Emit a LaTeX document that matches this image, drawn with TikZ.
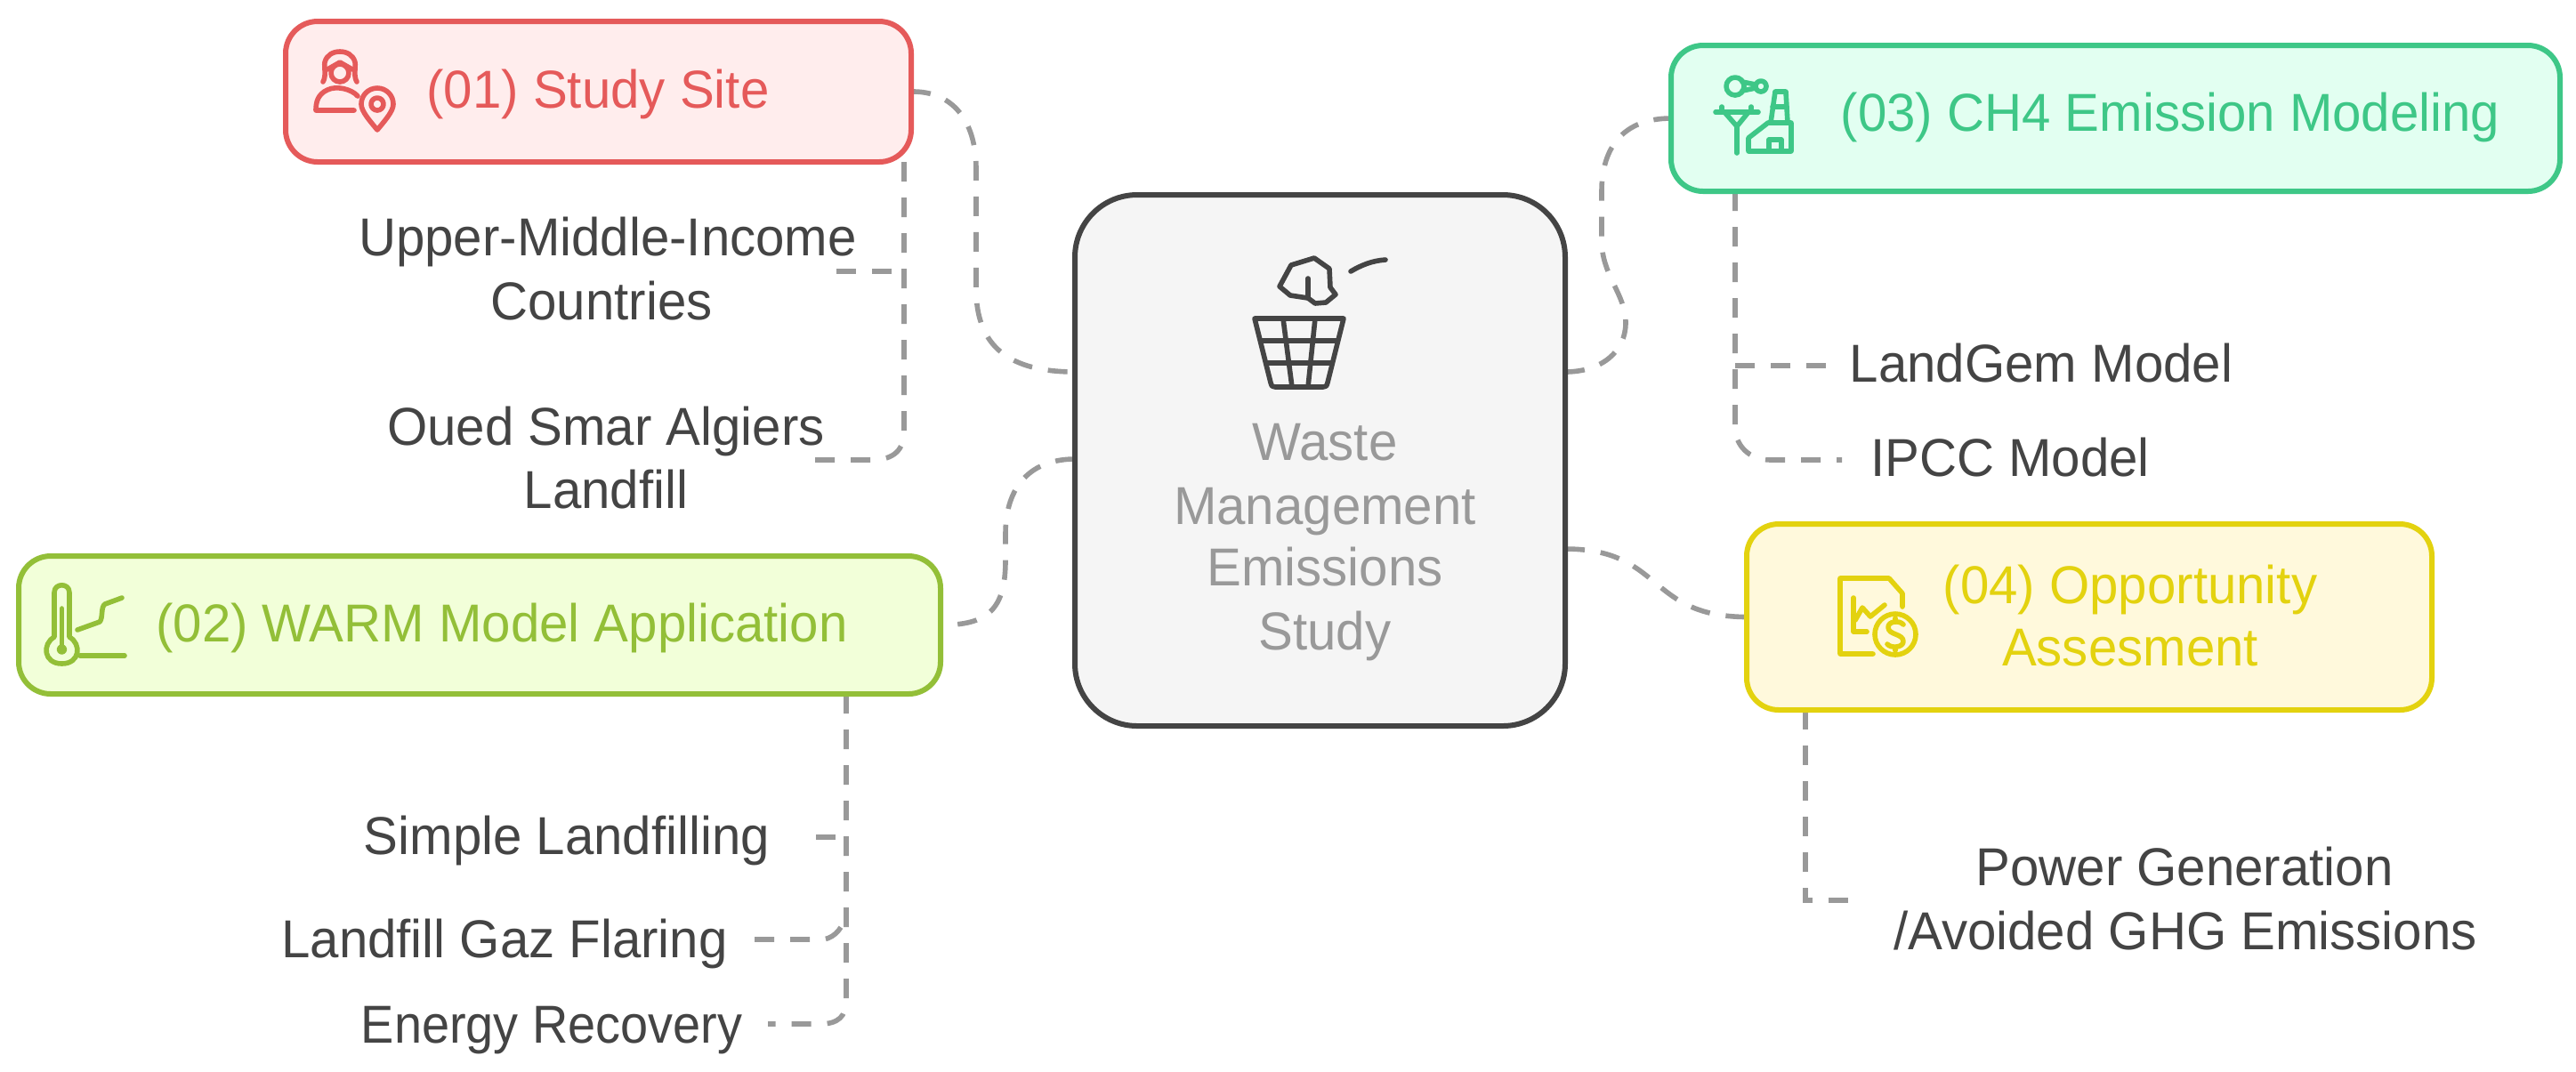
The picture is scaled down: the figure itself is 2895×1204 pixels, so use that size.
\documentclass[tikz,border=0pt]{standalone}
\usepackage{fontspec}
\setmainfont{Liberation Sans}[FakeStretch=0.97]
\definecolor{redL}{HTML}{E55A5A}\definecolor{redF}{HTML}{FFEDED}
\definecolor{greenL}{HTML}{3EC787}\definecolor{greenF}{HTML}{E2FFF1}
\definecolor{limeL}{HTML}{93BF38}\definecolor{limeF}{HTML}{F2FFD9}
\definecolor{yelL}{HTML}{E3D20F}\definecolor{yelF}{HTML}{FFF9DC}
\definecolor{inkL}{HTML}{444444}\definecolor{coreF}{HTML}{F5F5F5}
\definecolor{coreT}{HTML}{999999}\definecolor{linkC}{HTML}{999999}
\tikzset{
  x=0.25pt,y=-0.25pt,
  boxbase/.style={draw,rectangle,inner sep=0pt,outer sep=0pt,line width=1.5pt,rounded corners=9pt},
  txt/.style={font=\fontsize{15}{17.75}\selectfont,inner sep=0pt,outer sep=0pt,anchor=base,align=center},
  lbl/.style={txt,text=inkL},
  link/.style={draw=linkC,line width=1.4pt,dash pattern=on 5.5pt off 4.5pt},
  ico/.style={line width=1.4pt,line cap=round,line join=round},
}
\begin{document}
\begin{tikzpicture}
\path[use as bounding box,fill=white] (0,0) rectangle (2895,1204);
% connector anchors
\node[boxbase,draw=none,minimum width=137.75pt,minimum height=149.25pt] (core) at (1483.5,517.5) {};
\node[boxbase,draw=none,minimum width=175.75pt,minimum height=39.5pt] (site) at (672.5,103) {};
\node[boxbase,draw=none,minimum width=259pt,minimum height=38.75pt] (warm) at (539,702.5) {};
\node[boxbase,draw=none,minimum width=249.75pt,minimum height=41pt] (ch4) at (2377.5,133) {};
\node[boxbase,draw=none,minimum width=192.5pt,minimum height=52.25pt] (opp) at (2348,693.5) {};
\coordinate (upperEnd) at (940,305);
\coordinate (ouedEnd) at (913,517);
\coordinate (simpleEnd) at (917,941);
\coordinate (flareEnd) at (848,1056);
\coordinate (energyEnd) at (863,1151);
\coordinate (gemEnd) at (2055,411);
\coordinate (ipccEnd) at (2070,517);
\coordinate (powerEnd) at (2078,1012);
\draw[link] (site.east) .. controls (1070,102) and (1097,135) .. (1097,190) -- (1097,325) .. controls (1097,390) and (1135,418) .. (core.west |- 0,418);
\draw[link] (1016,0 |- site.south) -- (1016,485) .. controls (1016,505) and (1005,517) .. (980,517) -- (ouedEnd);
\draw[link] (upperEnd) -- (1016,305);
\draw[link] (core.east |- 0,418) .. controls (1800,418) and (1827,395) .. (1827,363) .. controls (1827,330) and (1800,310) .. (1800,270) -- (1800,215) .. controls (1800,165) and (1825,133) .. (ch4.west);
\draw[link] (1950,0 |- ch4.south) -- (1950,480) .. controls (1950,500) and (1965,517) .. (1990,517) -- (ipccEnd);
\draw[link] (1950,411) -- (gemEnd);
\draw[link] (core.east |- 0,617) .. controls (1870,617) and (1850,693) .. (opp.west);
\draw[link] (2029,0 |- opp.south) -- (2029,1012) -- (powerEnd);
\draw[link] (core.west |- 0,516) .. controls (1160,516) and (1130,545) .. (1130,600) -- (1130,630) .. controls (1130,685) and (1110,703) .. (warm.east);
\draw[link] (951,0 |- warm.south) -- (951,1125) .. controls (951,1142) and (942,1151) .. (922,1151) -- (energyEnd);
\draw[link] (simpleEnd) -- (951,941);
\draw[link] (flareEnd) -- (925,1056) .. controls (940,1054) and (948,1040) .. (951,1028);
% boxes
\node[boxbase,draw=inkL,fill=coreF,rounded corners=17.5pt,minimum width=137.75pt,minimum height=149.25pt] (coreBox) at (core) {};
\node[boxbase,draw=redL,fill=redF,minimum width=175.75pt,minimum height=39.5pt] (siteBox) at (site) {};
\node[boxbase,draw=limeL,fill=limeF,minimum width=259pt,minimum height=38.75pt] (warmBox) at (warm) {};
\node[boxbase,draw=greenL,fill=greenF,minimum width=249.75pt,minimum height=41pt] (ch4Box) at (ch4) {};
\node[boxbase,draw=yelL,fill=yelF,minimum width=192.5pt,minimum height=52.25pt] (oppBox) at (opp) {};
% titles
\node[txt,text=redL] (siteT) at (672,121) {(01) Study Site};
\node[txt,text=limeL] (warmT) at (564,721) {(02) WARM Model Application};
\node[txt,text=greenL] (ch4T) at (2439,147) {(03) CH4 Emission Modeling};
\node[txt,text=yelL] (oppT1) at (2394,678) {(04) Opportunity};
\node[txt,text=yelL] (oppT2) at (2394,748) {Assesment};
\node[txt,text=coreT] (coreT1) at (1489,517) {Waste};
\node[txt,text=coreT] (coreT2) at (1489,589) {Management};
\node[txt,text=coreT] (coreT3) at (1489,658) {Emissions};
\node[txt,text=coreT] (coreT4) at (1489,730) {Study};
% labels
\node[lbl] (upper1) at (683,287) {Upper-Middle-Income};
\node[lbl] (upper2) at (676,359) {Countries};
\node[lbl] (oued1) at (681,500) {Oued Smar Algiers};
\node[lbl] (oued2) at (681,571) {Landfill};
\node[lbl] (simple) at (637,960) {Simple Landfilling};
\node[lbl] (flare) at (567,1076) {Landfill Gaz Flaring};
\node[lbl,xscale=0.96,transform shape] (energy) at (620,1172) {Energy Recovery};
\node[lbl] (gem) at (2294,429) {LandGem Model};
\node[lbl] (ipcc) at (2259,535) {IPCC Model};
\node[lbl] (power1) at (2455,995) {Power Generation};
\node[lbl] (power2) at (2456,1067) {/Avoided GHG Emissions};
% trash icon
\begin{scope}[ico,draw=inkL]
\draw (1410,358) -- (1510,358) -- (1492,430) .. controls (1491,434) and (1490,435) .. (1487,435) -- (1433,435) .. controls (1430,435) and (1429,434) .. (1428,430) -- cycle;
\draw (1417,383) -- (1503,383) (1423,408) -- (1497,408) (1442,358) -- (1452,435) (1478,358) -- (1470,435);
\draw (1438,322) -- (1451,298) -- (1477,290) -- (1494,302) -- (1495,323) -- (1501,331) -- (1490,340) -- (1478,341) -- (1470,335) -- (1450,332) -- cycle;
\draw (1470,313) -- (1470,335);
\draw (1518,305) .. controls (1530,298) and (1542,293) .. (1557,292);
\end{scope}
% site icon
\begin{scope}[ico,draw=redL]
\draw (363,92) .. controls (367,85) and (364,76) .. (365,70) .. controls (367,62) and (374,58) .. (382,58) .. controls (390,58) and (397,62) .. (399,70) .. controls (400,76) and (397,85) .. (401,92);
\draw (382,82) circle[radius=10];
\draw (368,78) -- (382,70) -- (396,78);
\draw (402,108) .. controls (395,100) and (378,96) .. (368,101) .. controls (357,106) and (355,115) .. (355,124) -- (398,124);
\draw (424,146) .. controls (415,135) and (406,125) .. (406,117) .. controls (406,107) and (414,99) .. (424,99) .. controls (434,99) and (442,107) .. (442,117) .. controls (442,125) and (433,135) .. (424,146) -- cycle;
\draw (424,117) circle[radius=7];
\end{scope}
% ch4 icon
\begin{scope}[ico,draw=greenL]
\draw (1950,97) circle[radius=10];
\draw (1979,97) circle[radius=6];
\draw (1958,92) -- (1973,95) (1958,102) -- (1973,99);
\draw (1928,126) -- (1976,126) (1935,120) -- (1935,126) (1968,120) -- (1968,126);
\draw (1938,126) -- (1952,142) -- (1965,126);
\draw (1952,142) -- (1952,172);
\draw (1990,138) -- (1995,103) -- (2007,103) -- (2009,138);
\draw (1992,120) -- (2008,120);
\draw (1965,170) -- (1965,155) -- (1987,138) -- (2013,138) -- (2013,170) -- cycle;
\draw (1988,170) -- (1988,157) -- (2002,157) -- (2002,170);
\end{scope}
% warm icon
\begin{scope}[ico,draw=limeL]
\draw (61,716) -- (61,666) .. controls (61,655) and (78,655) .. (78,666) -- (78,716) .. controls (92,724) and (90,746) .. (69.5,746) .. controls (49,746) and (47,724) .. (61,716) -- cycle;
\draw (69.5,684) -- (69.5,730);
\draw (69.5,730) circle[radius=3];
\draw (87,708) -- (112,699) .. controls (116,695) and (113,682) .. (118,679) -- (137,672);
\draw (90,737) -- (140,737);
\end{scope}
% opp icon
\begin{scope}[ico,draw=yelL]
\draw (2138,682) -- (2138,667) -- (2123,650) -- (2068,650) -- (2068,735) -- (2105,735);
\draw (2083,672) -- (2083,710) -- (2098,710);
\draw (2085,697) -- (2093,683) -- (2102,693) -- (2118,680);
\draw (2130,713) circle[radius=23];
\draw (2139,702) .. controls (2135,697) and (2122,698) .. (2122,705) .. controls (2122,714) and (2139,712) .. (2139,721) .. controls (2139,728) and (2125,729) .. (2121,724);
\draw (2130,695) -- (2130,698) (2130,728) -- (2130,731);
\end{scope}
\end{tikzpicture}
\end{document}
